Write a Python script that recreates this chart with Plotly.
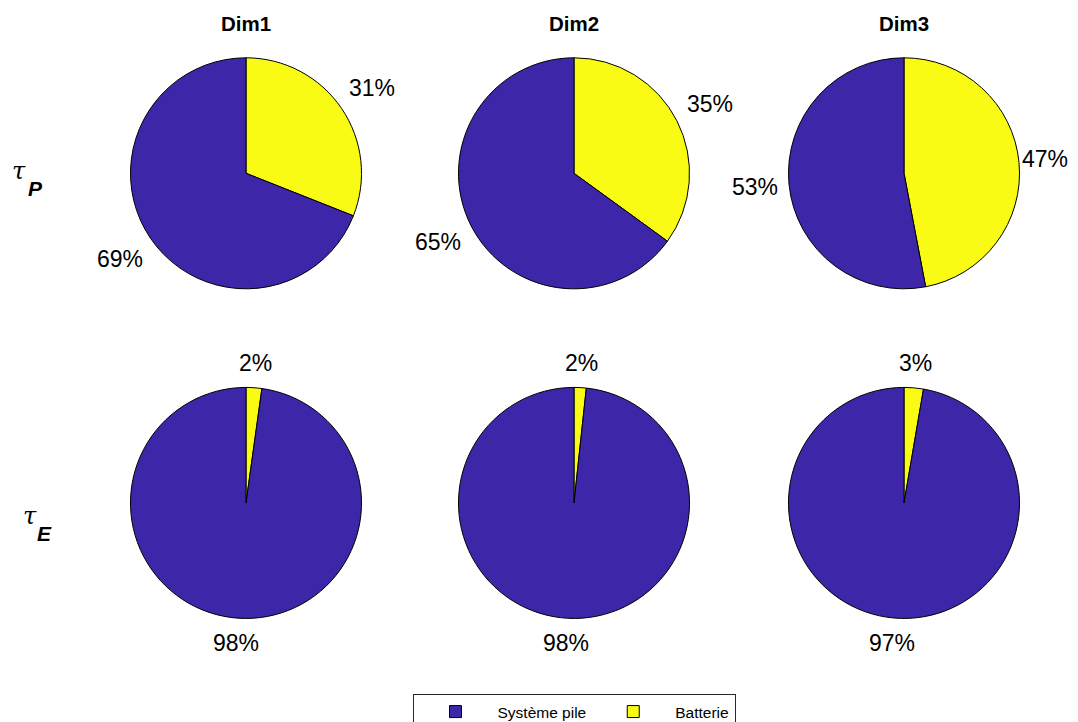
import math
import plotly.graph_objects as go

labels = ["Batterie", "Système pile"]
dims = ["Dim1", "Dim2", "Dim3"]
tau_p_batt = [31, 35, 47]
tau_p_pile = [69, 65, 53]
tau_e_batt = [2.2, 1.7, 2.7]
tau_e_pile = [97.8, 98.3, 97.3]
row_tau = ["τ", "τ"]
row_sub = ["P", "E"]

colors = ["rgb(249,251,21)", "rgb(62,38,168)"]
FONT = "Liberation Sans, Arial, sans-serif"
W, H = 1078, 722
OFF = 8  # default page body margin in the browser
VISIBLE_RIGHT = 1068

def px(x):
    return (x - OFF) / W

def py(y):
    return 1 - (y - OFF) / H

centers_x = [246, 574, 904]
centers_y = [174, 505]
R = 116
LBL_FS = 23

fig = go.Figure()
annotations = []
rows = [(tau_p_batt, tau_p_pile), (tau_e_batt, tau_e_pile)]
for ri, (batt, pile) in enumerate(rows):
    for ci in range(3):
        cx, cy = centers_x[ci], centers_y[ri]
        vals = [batt[ci], pile[ci]]
        fig.add_trace(go.Pie(
            labels=labels, values=vals, sort=False,
            direction="clockwise", rotation=0,
            marker=dict(colors=colors, line=dict(color="black", width=1)),
            textinfo="none",
            hoverinfo="label+percent",
            showlegend=(ri == 0 and ci == 0),
            domain=dict(x=[px(cx - R), px(cx + R)], y=[py(cy + R), py(cy - R)]),
        ))
        # percentage labels outside each slice, at the slice's mid angle
        total = sum(vals)
        start = 0.0
        for v in vals:
            frac = v / total
            theta = 2 * math.pi * (start + frac / 2)
            start += frac
            dx, dy = math.sin(theta), -math.cos(theta)
            txt = f"{round(100 * frac)}%"
            hw = 0.5 * LBL_FS * (0.556 * (len(txt) - 1) + 0.889)
            hh = 13.8
            dist = 1.085 * R + hw * abs(dx) + hh * abs(dy)
            lx = cx + dist * dx
            lx = min(lx, VISIBLE_RIGHT - hw)
            annotations.append(dict(
                text=txt, x=px(lx), y=py(cy + dist * dy),
                xref="paper", yref="paper", showarrow=False,
                xanchor="center", yanchor="middle",
                font=dict(family=FONT, size=LBL_FS, color="black")))

for ci, d in enumerate(dims):
    annotations.append(dict(text="<b>" + d + "</b>", x=px(centers_x[ci]), y=py(24),
                            xref="paper", yref="paper", showarrow=False,
                            xanchor="center", yanchor="middle",
                            font=dict(family=FONT, size=20.5, color="black")))
tau_pos = [(18.5, 172), (30, 518)]
sub_pos = [(35.5, 189), (44.5, 536)]
for ri in range(2):
    annotations.append(dict(text="<i>" + row_tau[ri] + "</i>", x=px(tau_pos[ri][0]),
                            y=py(tau_pos[ri][1]),
                            xref="paper", yref="paper", showarrow=False,
                            xanchor="center", yanchor="middle",
                            font=dict(family="DejaVu Serif, serif", size=24, color="black")))
    annotations.append(dict(text="<b><i>" + row_sub[ri] + "</i></b>", x=px(sub_pos[ri][0]),
                            y=py(sub_pos[ri][1]),
                            xref="paper", yref="paper", showarrow=False,
                            xanchor="center", yanchor="middle",
                            font=dict(family=FONT, size=21, color="black")))

fig.update_layout(
    width=W, height=H,
    margin=dict(l=0, r=0, t=0, b=0),
    paper_bgcolor="white",
    plot_bgcolor="white",
    font=dict(family=FONT, color="black"),
    annotations=annotations,
    legend=dict(orientation="h", x=px(574), xanchor="center", y=py(697), yanchor="top",
                bordercolor="rgb(40,40,40)", borderwidth=1,
                font=dict(family=FONT, size=15.5, color="black"),
                itemwidth=74, traceorder="reversed"),
)

fig.write_html("out.html", config={"responsive": False, "displayModeBar": False},
               post_script="document.body.style.overflow='hidden';"
                           "document.documentElement.style.overflow='hidden';")
